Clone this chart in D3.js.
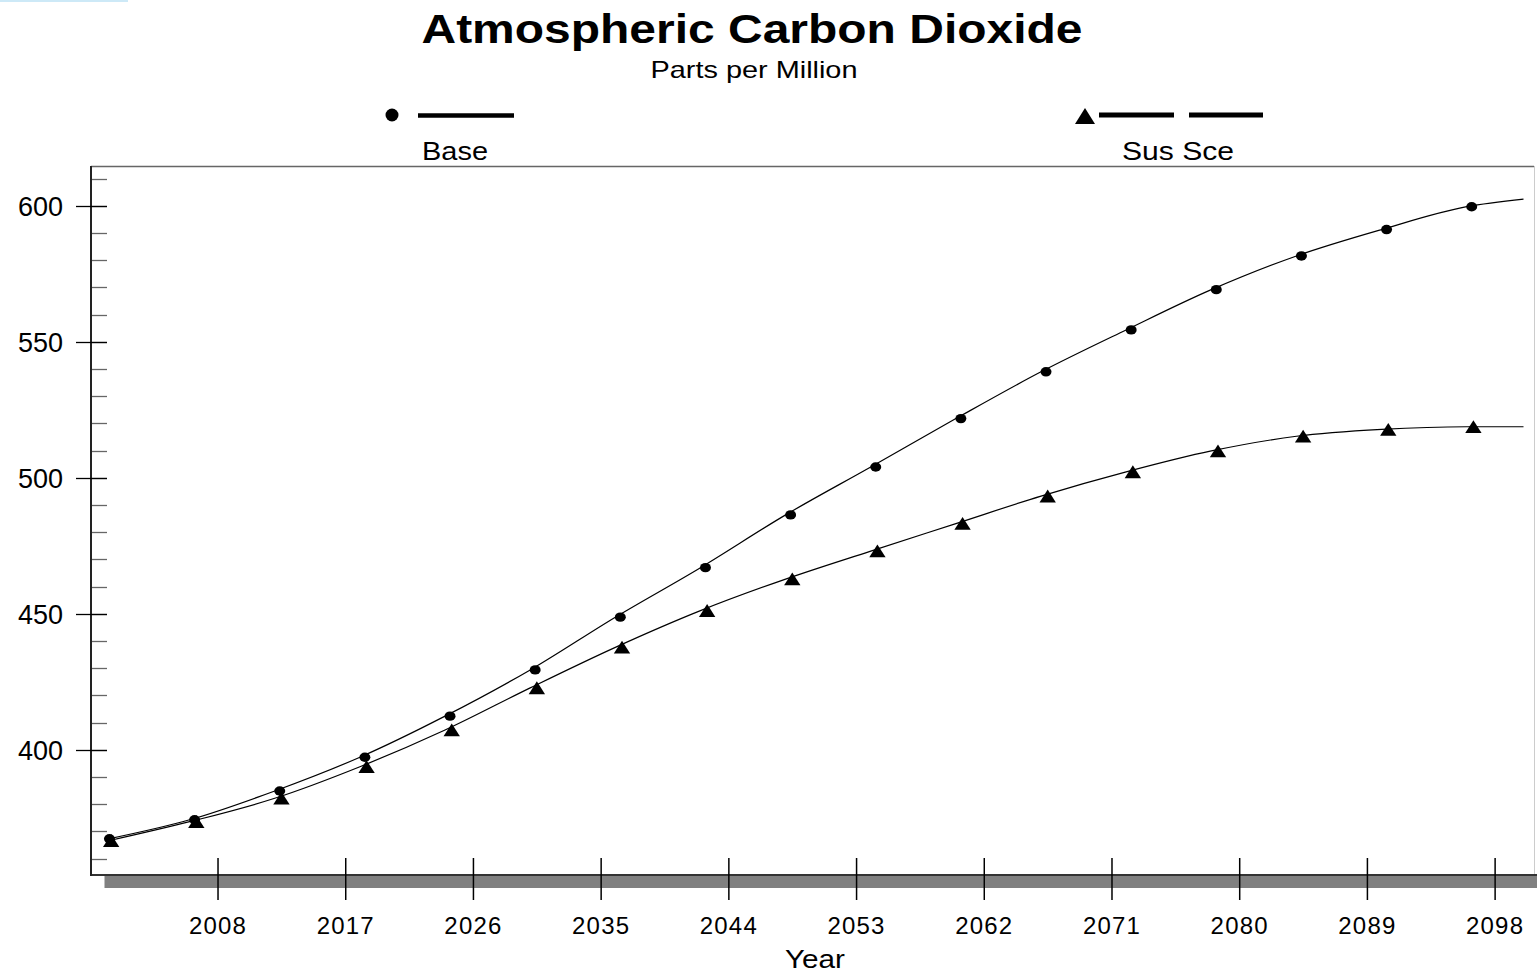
<!DOCTYPE html>
<html><head><meta charset="utf-8">
<script src="https://cdn.jsdelivr.net/npm/d3@7"></script>
<style>html,body{margin:0;padding:0;background:#fff;}svg{display:block;}</style>
</head><body>
<script>
// ---- data ----
const years = [2000, 2006, 2012, 2018, 2024, 2030, 2036, 2042, 2048, 2054, 2060, 2066, 2072, 2078, 2084, 2090, 2096];
const baseValues = [367.3, 374.3, 384.9, 397.3, 412.4, 429.4, 448.8, 467.0, 486.4, 504.0, 521.8, 539.0, 554.4, 569.2, 581.6, 591.3, 599.7];
const susValues  = [366.6, 373.6, 382.2, 393.8, 407.3, 422.8, 437.7, 451.2, 462.8, 473.1, 483.2, 493.3, 502.2, 509.9, 515.3, 517.8, 518.8];
const endYear = 2100;
const baseEnd = 602.5;
const susEnd = 518.8;
const xTickLabels = [2008, 2017, 2026, 2035, 2044, 2053, 2062, 2071, 2080, 2089, 2098];
const yTickLabels = [400, 450, 500, 550, 600];
const yMinorTicks = [360,370,380,390,400,410,420,430,440,450,460,470,480,490,500,510,520,530,540,550,560,570,580,590,600,610];
const seriesNames = ["Base", "Sus Sce"];

const W = 1537, H = 973;
const svg = d3.select("body").append("svg").attr("width", W).attr("height", H);
const font = "'Liberation Sans', Arial, sans-serif";

const x = d3.scaleLinear().domain([2000, 2100]).range([104.5, 1523.5]);
const y = d3.scaleLinear().domain([354, 614.3]).range([875, 167]);

// top-left light strip
svg.append("rect").attr("x", 0).attr("y", 0).attr("width", 128).attr("height", 2).attr("fill", "#cde9f7");

// title
svg.append("text").attr("x", 752).attr("y", 43).attr("text-anchor", "middle")
  .attr("font-family", font).attr("font-weight", "bold").attr("font-size", 40)
  .attr("textLength", 661).attr("lengthAdjust", "spacingAndGlyphs")
  .text("Atmospheric Carbon Dioxide");
svg.append("text").attr("x", 754).attr("y", 78).attr("text-anchor", "middle")
  .attr("font-family", font).attr("font-size", 24)
  .attr("textLength", 207).attr("lengthAdjust", "spacingAndGlyphs")
  .text("Parts per Million");

// legend
const lg = svg.append("g");
lg.append("ellipse").attr("cx", 392).attr("cy", 115).attr("rx", 6.5).attr("ry", 6.5).attr("fill", "#000");
lg.append("line").attr("x1", 418).attr("x2", 514).attr("y1", 115.5).attr("y2", 115.5).attr("stroke", "#000").attr("stroke-width", 4.5);
lg.append("text").attr("x", 455).attr("y", 160).attr("text-anchor", "middle").attr("font-family", font).attr("font-size", 26)
  .attr("textLength", 66).attr("lengthAdjust", "spacingAndGlyphs").text(seriesNames[0]);
lg.append("path").attr("d", "M1085,108 L1095,124 L1075,124 Z").attr("fill", "#000");
lg.append("line").attr("x1", 1099).attr("x2", 1174).attr("y1", 115).attr("y2", 115).attr("stroke", "#000").attr("stroke-width", 5);
lg.append("line").attr("x1", 1189).attr("x2", 1263).attr("y1", 115).attr("y2", 115).attr("stroke", "#000").attr("stroke-width", 5);
lg.append("text").attr("x", 1178).attr("y", 160).attr("text-anchor", "middle").attr("font-family", font).attr("font-size", 26)
  .attr("textLength", 112).attr("lengthAdjust", "spacingAndGlyphs").text(seriesNames[1]);

// frame top & right
svg.append("line").attr("x1", 91).attr("x2", 1534).attr("y1", 166.5).attr("y2", 166.5).attr("stroke", "#666").attr("stroke-width", 1.5);
svg.append("line").attr("x1", 1534.5).attr("x2", 1534.5).attr("y1", 166).attr("y2", 875).attr("stroke", "#ccc").attr("stroke-width", 1);

// gray bar under x axis
svg.append("rect").attr("x", x(2000)).attr("y", 876).attr("width", W - x(2000)).attr("height", 12).attr("fill", "#808080");
svg.append("line").attr("x1", 91).attr("x2", W).attr("y1", 875).attr("y2", 875).attr("stroke", "#333").attr("stroke-width", 2);

// y axis
svg.append("line").attr("x1", 91).attr("x2", 91).attr("y1", 166).attr("y2", 876).attr("stroke", "#222").attr("stroke-width", 2);
svg.append("g").selectAll("line").data(yMinorTicks).join("line")
  .attr("x1", 92).attr("x2", 107).attr("y1", d => Math.round(y(d)) + 0.5).attr("y2", d => Math.round(y(d)) + 0.5)
  .attr("stroke", "#666").attr("stroke-width", 1.3);
svg.append("g").selectAll("line").data(yTickLabels).join("line")
  .attr("x1", 76).attr("x2", 107).attr("y1", d => Math.round(y(d)) + 0.5).attr("y2", d => Math.round(y(d)) + 0.5)
  .attr("stroke", "#000").attr("stroke-width", 1.3);
svg.append("g").selectAll("text").data(yTickLabels).join("text")
  .attr("x", 63).attr("y", d => y(d) + 10).attr("text-anchor", "end")
  .attr("font-family", font).attr("font-size", 27).text(d => d);

// x axis ticks
svg.append("g").selectAll("line").data(xTickLabels).join("line")
  .attr("x1", d => x(d)).attr("x2", d => x(d)).attr("y1", 858).attr("y2", 900)
  .attr("stroke", "#000").attr("stroke-width", 1.5);
svg.append("g").selectAll("text").data(xTickLabels).join("text")
  .attr("x", d => x(d)).attr("y", 934).attr("text-anchor", "middle")
  .attr("font-family", font).attr("font-size", 24).attr("letter-spacing", 1.2).text(d => d);
svg.append("text").attr("x", 815).attr("y", 968).attr("text-anchor", "middle")
  .attr("font-family", font).attr("font-size", 26).attr("textLength", 60).attr("lengthAdjust", "spacingAndGlyphs").text("Year");

// lines
const line = d3.line().x(d => x(d[0])).y(d => y(d[1])).curve(d3.curveMonotoneX);
const basePts = years.map((yr, i) => [yr, baseValues[i]]).concat([[endYear, baseEnd]]);
const susPts = years.map((yr, i) => [yr, susValues[i]]).concat([[endYear, susEnd]]);
basePts[0] = [2000.3, baseValues[0]];
susPts[0] = [2000.3, susValues[0]];
svg.append("path").attr("d", line(basePts)).attr("fill", "none").attr("stroke", "#000").attr("stroke-width", 1.2);
svg.append("path").attr("d", line(susPts)).attr("fill", "none").attr("stroke", "#000").attr("stroke-width", 1.2);

// markers
const mkShift = 0.35;
svg.append("g").selectAll("ellipse").data(years).join("ellipse")
  .attr("cx", (d) => x(d + mkShift)).attr("cy", (d, i) => y(baseValues[i]))
  .attr("rx", 5.5).attr("ry", 4.7).attr("fill", "#000");
const tri = d3.symbol().type(d3.symbolTriangle).size(105);
svg.append("g").selectAll("path").data(years).join("path")
  .attr("d", tri)
  .attr("transform", (d, i) => `translate(${x(d + mkShift + 0.12)},${y(susValues[i]) + 2}) scale(1.05,0.95)`)
  .attr("fill", "#000");
</script>
</body></html>
